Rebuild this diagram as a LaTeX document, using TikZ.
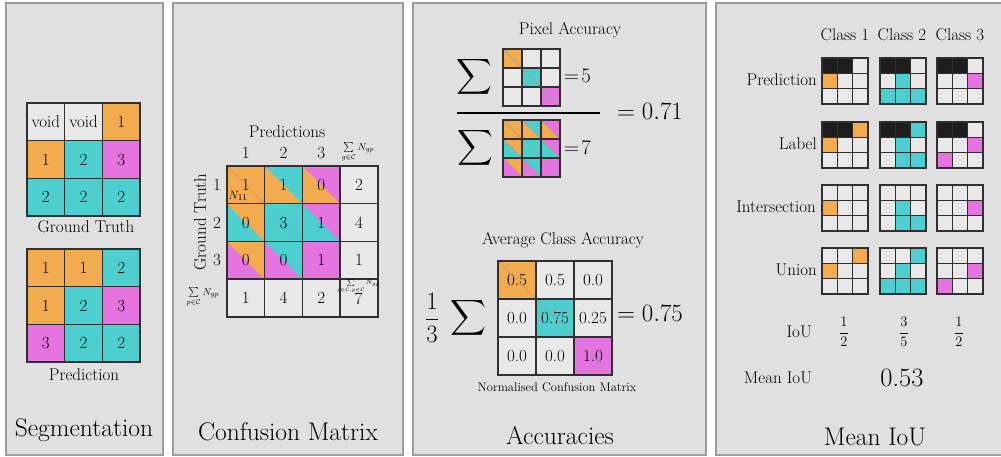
\documentclass[tikz,border=0pt]{standalone}
\usepackage{amsmath}
\definecolor{cOr}{HTML}{F2AC4F}
\definecolor{cCy}{HTML}{4ECFCF}
\definecolor{cMa}{HTML}{E674E0}
\definecolor{cLt}{HTML}{E8E8E8}
\definecolor{cBg}{HTML}{E0E0E0}
\definecolor{cFr}{HTML}{9C9C9C}
\definecolor{cLn}{HTML}{303030}
\definecolor{cBk}{HTML}{1E1E1E}
\definecolor{cDg}{HTML}{A0A0A0}
\newcommand\mygrid[5]{%
  \foreach \i in {1,2}{%
    \draw[draw=cLn,line width=#4] ({#1+\i*#3},#2) -- ++(0,{3*#3});
    \draw[draw=cLn,line width=#4] (#1,{#2+\i*#3}) -- ++({3*#3},0);}
  \draw[draw=cLn,line width=#5] (#1,#2) rectangle ++({3*#3},{3*#3});}
\newcommand\splitgrid[3]{%
  \foreach \r/\rc in {0/cOr,1/cCy,2/cMa}{\foreach \c/\cc in {0/cOr,1/cCy,2/cMa}{%
    \fill[\rc] ({#1+\c*#3},{#2+\r*#3}) -- ++(0,#3) -- ++(#3,0) -- cycle;
    \fill[\cc] ({#1+\c*#3},{#2+\r*#3}) -- ++(#3,0) -- ++(0,#3) -- cycle;}}}
\newcommand\sgrid[3]{%
  \fill[cLt] (#1,#2) rectangle ++(45.9,45.9);
  \foreach \c/\r/\cl in {#3}{\fill[\cl] ({#1+\c*15.3},{#2+\r*15.3}) rectangle ++(15.3,15.3);}
  \mygrid{#1}{#2}{15.3}{1.1pt}{1.9pt}}
\begin{document}
\begin{tikzpicture}[x=1pt,y=-1pt,
  panel/.style={fill=cBg,draw=cFr,line width=2pt},
  txt/.style={font=\fontsize{17}{20}\selectfont,inner sep=0pt},
  small/.style={font=\fontsize{12.5}{15}\selectfont,inner sep=0pt},
  ttl/.style={font=\fontsize{25.5}{30}\selectfont,inner sep=0pt},
  big/.style={font=\fontsize{24.5}{29}\selectfont,inner sep=0pt},
  eqs/.style={font=\fontsize{21.5}{26}\selectfont,inner sep=0pt},
  sig/.style={font=\fontsize{23}{28}\selectfont,inner sep=0pt},
  frc/.style={font=\fontsize{15}{18}\selectfont,inner sep=0pt},
  diag/.style={draw=cDg,line width=0.7pt}]
\useasboundingbox (0,0) rectangle (1001,457);
\fill[white] (0,0) rectangle (1001,457);
\draw[panel] (6,3) rectangle (163,455);
\draw[panel] (173,3) rectangle (403,455);
\draw[panel] (413,3) rectangle (706,455);
\draw[panel] (716,3) rectangle (1004,455);

% ---------- Panel 1: Segmentation
\foreach \c/\r/\cl/\t [count=\k] in {0/0/cLt/void,1/0/cLt/void,2/0/cOr/1,0/1/cOr/1,1/1/cCy/2,2/1/cMa/3,0/2/cCy/2,1/2/cCy/2,2/2/cCy/2}{
  \fill[\cl] ({27+\c*37.7},{103+\r*37.7}) rectangle ++(37.7,37.7);
  \node[txt] (gt\k) at ({27+\c*37.7+18.85},{103+\r*37.7+18.85}) {\t};}
\mygrid{27}{103}{37.7}{1.3pt}{2.6pt}
\node[txt] (gtlbl) at (86,227) {Ground Truth};
\foreach \c/\r/\cl/\t [count=\k] in {0/0/cOr/1,1/0/cOr/1,2/0/cCy/2,0/1/cOr/1,1/1/cCy/2,2/1/cMa/3,0/2/cMa/3,1/2/cCy/2,2/2/cCy/2}{
  \fill[\cl] ({27+\c*37.7},{249+\r*37.7}) rectangle ++(37.7,37.7);
  \node[txt] (pr\k) at ({27+\c*37.7+18.85},{249+\r*37.7+18.85}) {\t};}
\mygrid{27}{249}{37.7}{1.3pt}{2.6pt}
\node[txt] (prlbl) at (84,375) {Prediction};
\node[ttl] (t1) at (84,430) {Segmentation};

% ---------- Panel 2: Confusion matrix
\splitgrid{227}{166}{37.7}
\draw[diag] (227,166) -- ++(113.1,113.1);
\foreach \r in {0,1,2}{\fill[cLt] (340.1,{166+\r*37.7}) rectangle ++(37.7,37.7);}
\foreach \c in {0,1,2,3}{\fill[cLt] ({227+\c*37.7},279.1) rectangle ++(37.7,37.7);}
\foreach \i in {1,2,3}{
  \draw[draw=cLn,line width=1.3pt] ({227+\i*37.7},166) -- ++(0,150.8);
  \draw[draw=cLn,line width=1.3pt] (227,{166+\i*37.7}) -- ++(150.8,0);}
\draw[draw=cLn,line width=1.5pt] (227,166) rectangle ++(150.8,150.8);
\draw[draw=cLn,line width=2.6pt] (227,166) rectangle ++(113.1,113.1);
\foreach \c/\r/\t [count=\k] in {0/0/1,1/0/1,2/0/0,0/1/0,1/1/3,2/1/1,0/2/0,1/2/0,2/2/1,3/0/2,3/1/4,3/2/1,0/3/1,1/3/4,2/3/2}{
  \node[txt] (cm\k) at ({227+\c*37.7+18.85},{166+\r*37.7+18.85}) {\t};}
\node[txt] (cmtot) at (358.5,299) {7};
\node[inner sep=0pt,font=\fontsize{7}{8}\selectfont] (cmtotl) at (358.5,284) {$\sum\limits_{g\in\mathcal{C},p\in\mathcal{C}}^{\phantom{x}} N_{gp}$};
\node[small] (n11) at (238,196) {$N_{11}$};
\node[txt] (predlbl) at (287,132) {Predictions};
\foreach \c/\t [count=\k] in {0/1,1/2,2/3}{\node[txt] (ph\k) at ({227+\c*37.7+18.85},153) {\t};}
\node[inner sep=0pt,font=\fontsize{10}{12}\selectfont] (sumg) at (358,152) {$\sum\limits_{g\in\mathcal{C}} N_{gp}$};
\foreach \r/\t [count=\k] in {0/1,1/2,2/3}{\node[txt] (rh\k) at (217,{166+\r*37.7+18.85}) {\t};}
\node[txt,rotate=90] (gtv) at (200,222) {Ground Truth};
\node[inner sep=0pt,font=\fontsize{10}{12}\selectfont] (sump) at (203,297) {$\sum\limits_{p\in\mathcal{C}} N_{gp}$};
\node[ttl] (t2) at (288,432) {Confusion Matrix};

% ---------- Panel 3: Accuracies
\node[txt] (pa) at (570,30) {Pixel Accuracy};
\node[sig] (s1) at (474,77) {$\displaystyle\sum$};
\fill[cLt] (503,49) rectangle ++(57,57);
\fill[cOr] (503,49) rectangle ++(19,19);
\fill[cCy] (522,68) rectangle ++(19,19);
\fill[cMa] (541,87) rectangle ++(19,19);
\draw[diag] (503,49) -- ++(57,57);
\mygrid{503}{49}{19}{1.1pt}{1.9pt}
\node[eqs,anchor=west] (eq5) at (564,76) {$=\!5$};
\draw[line width=2pt] (457,113) coordinate (fl) -- (600,113) coordinate (fr);
\node[big] (v071) at (650,111) {$=0.71$};
\node[sig] (s2) at (475,148) {$\displaystyle\sum$};
\splitgrid{503}{120}{19}
\foreach \r in {0,1,2}{\foreach \c in {0,1,2}{\draw[diag] ({503+\c*19},{120+\r*19}) -- ++(19,19);}}
\mygrid{503}{120}{19}{1.1pt}{1.9pt}
\node[eqs,anchor=west] (eq7) at (564,148) {$=\!7$};

\node[txt] (aca) at (563,240) {Average Class Accuracy};
\node[sig] (third) at (432,318) {$\displaystyle\frac{1}{3}$};
\node[sig] (s3) at (468,318) {$\displaystyle\sum$};
\fill[cLt] (498,261) rectangle ++(114,114);
\fill[cOr] (498,261) rectangle ++(38,38);
\fill[cCy] (536,299) rectangle ++(38,38);
\fill[cMa] (574,337) rectangle ++(38,38);
\foreach \c/\r/\t [count=\k] in {0/0/0.5,1/0/0.5,2/0/0.0,0/1/0.0,1/1/0.75,2/1/0.25,0/2/0.0,1/2/0.0,2/2/1.0}{
  \node[txt] (nc\k) at ({498+\c*38+19},{261+\r*38+19}) {\t};}
\draw[diag] (498,261) -- ++(114,114);
\mygrid{498}{261}{38}{1.3pt}{2.6pt}
\node[big] (v075) at (650,313) {$=0.75$};
\node[small] (ncm) at (557,387) {Normalised Confusion Matrix};
\node[ttl] (t3) at (560,436) {Accuracies};

% ---------- Panel 4: Mean IoU
\node[txt] (c1) at (845,35) {Class 1};
\node[txt] (c2) at (902,35) {Class 2};
\node[txt] (c3) at (960,35) {Class 3};
\node[txt,anchor=east] (lp) at (817,80) {Prediction};
\node[txt,anchor=east] (ll) at (817,144) {Label};
\node[txt,anchor=east] (li) at (816,207) {Intersection};
\node[txt,anchor=east] (lu) at (817,270) {Union};
\sgrid{822}{58}{0/0/cBk,1/0/cBk,0/1/cOr}
\sgrid{880}{58}{0/0/cBk,1/0/cBk,1/1/cCy,0/2/cCy,1/2/cCy,2/2/cCy}
\sgrid{937}{58}{0/0/cBk,1/0/cBk,2/1/cMa}
\sgrid{822}{122}{0/0/cBk,1/0/cBk,2/0/cOr,0/1/cOr}
\sgrid{880}{122}{0/0/cBk,1/0/cBk,2/0/cCy,1/1/cCy,1/2/cCy,2/2/cCy}
\sgrid{937}{122}{0/0/cBk,1/0/cBk,2/1/cMa,0/2/cMa}
\sgrid{822}{185}{0/1/cOr}
\sgrid{880}{185}{1/1/cCy,1/2/cCy,2/2/cCy}
\sgrid{937}{185}{2/1/cMa}
\sgrid{822}{248}{2/0/cOr,0/1/cOr}
\sgrid{880}{248}{2/0/cCy,1/1/cCy,0/2/cCy,1/2/cCy,2/2/cCy}
\sgrid{937}{248}{2/1/cMa,0/2/cMa}
\node[txt,anchor=east] (liou) at (812,332) {IoU};
\node[frc] (f1) at (844,332) {$\displaystyle\frac{1}{2}$};
\node[frc] (f2) at (904,332) {$\displaystyle\frac{3}{5}$};
\node[frc] (f3) at (959,332) {$\displaystyle\frac{1}{2}$};
\node[txt] (lmiou) at (778,378) {Mean IoU};
\node[font=\fontsize{26.5}{31}\selectfont,inner sep=0pt] (v053) at (902,378) {0.53};
\node[ttl] (t4) at (875,437) {Mean IoU};
\end{tikzpicture}
\end{document}
